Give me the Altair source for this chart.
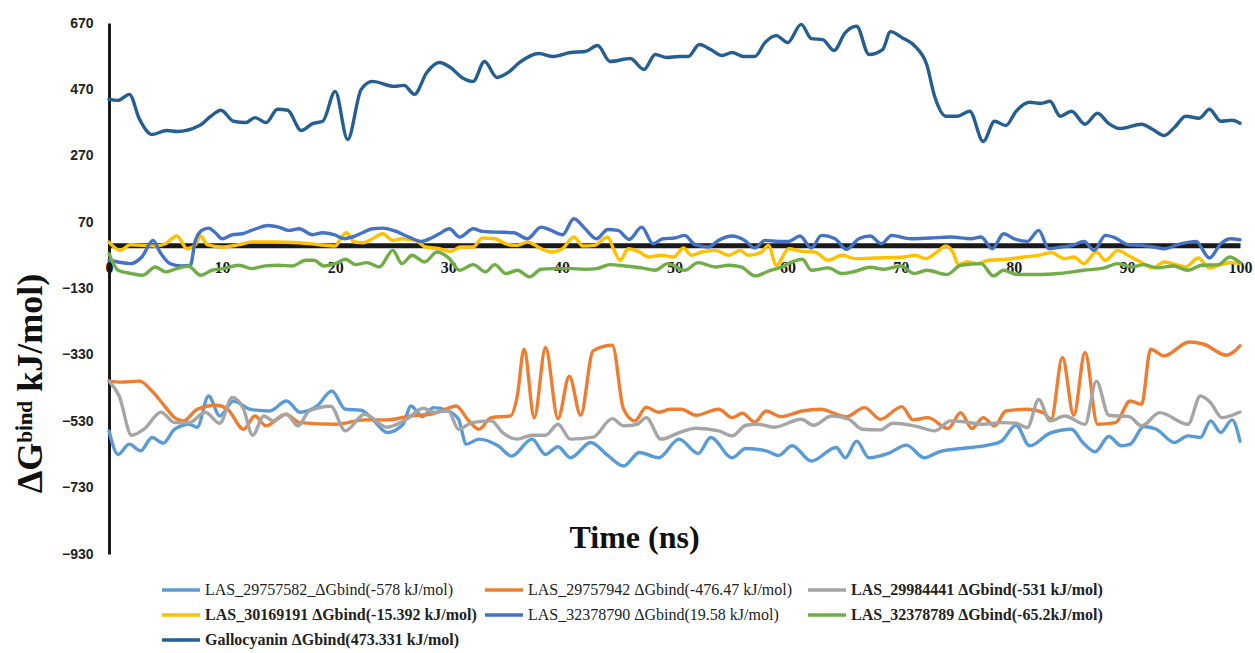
import altair as alt
import pandas as pd

# ---- series names (legend text), colours and line widths ----
series_names = [
    "LAS_29757582_ΔGbind(-578 kJ/mol)",
    "LAS_29757942 ΔGbind(-476.47 kJ/mol)",
    "LAS_29984441 ΔGbind(-531 kJ/mol)",
    "LAS_30169191 ΔGbind(-15.392 kJ/mol)",
    "LAS_32378790 ΔGbind(19.58 kJ/mol)",
    "LAS_32378789 ΔGbind(-65.2kJ/mol)",
    "Gallocyanin ΔGbind(473.331 kJ/mol)",
]
series_colors = ["#5B9BD5", "#ED7D31", "#A5A5A5", "#FFC000", "#4472C4", "#70AD47", "#255E91"]
series_widths = [3.4, 3.4, 3.4, 2.3, 2.0, 2.2, 4.0]

# ---- LAS_29757582 (light blue) ----
t_582 = [0, 0.8, 1.8, 2.8, 3.8, 4.8, 5.8, 7.1, 7.8, 8.8, 9.8, 11.0, 12.5, 14.2, 15.7, 16.9, 18.4, 19.7,
         20.9, 22.3, 23.3, 24.6, 26.0, 26.7, 27.7, 28.7, 30.0, 30.9, 31.6, 32.7, 34.4, 35.6, 37.4, 38.6,
         39.7, 40.8, 42.6, 44.1, 45.5, 46.9, 48.6, 50.4, 52.1, 53.2, 55.1, 56.3, 58.1, 59.2, 60.4, 62.1,
         64.3, 65.1, 66.1, 67.2, 68.9, 70.5, 72.1, 73.4, 75.4, 77.7, 78.9, 80.2, 81.4, 83.2, 85.1, 86.1,
         87.2, 88.4, 89.5, 90.3, 91.5, 92.6, 94.2, 95.4, 96.5, 97.4, 98.3, 99.3, 100]
v_582 = [-559, -630, -599, -619, -579, -596, -554, -539, -548, -454, -514, -469, -494, -499, -469, -503,
         -484, -439, -494, -497, -524, -564, -539, -484, -516, -489, -499, -524, -599, -584, -604, -635,
         -584, -630, -607, -640, -594, -633, -665, -624, -640, -584, -627, -579, -640, -612, -619, -633,
         -604, -650, -609, -640, -590, -640, -627, -602, -640, -622, -612, -602, -590, -542, -604, -566,
         -554, -594, -622, -576, -604, -599, -546, -554, -594, -574, -579, -529, -564, -526, -590]

# ---- LAS_29757942 (orange) ----
t_942 = [0, 1.1, 2.7, 3.8, 4.8, 5.8, 6.6, 7.8, 9.5, 10.5, 11.9, 12.9, 13.9, 15.6, 16.9, 20.0, 22.6, 24.6,
         26.7, 28.4, 29.4, 30.7, 31.7, 32.7, 33.8, 35.5, 36.1, 36.7, 37.6, 38.6, 39.7, 40.7, 41.7, 42.8,
         44.5, 45.5, 46.5, 47.5, 48.6, 49.6, 50.6, 51.9, 53.9, 55.1, 56.0, 57.1, 58.1, 59.4, 61.3, 62.9,
         65.2, 66.8, 68.2, 70.1, 71.1, 72.4, 74.2, 75.3, 76.3, 77.3, 78.3, 79.3, 81.2, 82.6, 83.3, 84.3,
         85.3, 86.3, 87.4, 89.0, 90.3, 91.3, 92.1, 93.3, 95.5, 96.8, 98.8, 100]
v_942 = [-409, -412, -409, -439, -479, -519, -529, -494, -482, -494, -554, -514, -544, -509, -534, -539,
         -526, -526, -514, -509, -499, -484, -524, -554, -519, -514, -454, -313, -519, -308, -522, -394,
         -512, -318, -301, -494, -529, -488, -503, -494, -494, -512, -494, -519, -506, -532, -499, -516,
         -499, -494, -516, -489, -524, -486, -526, -519, -552, -504, -552, -519, -544, -499, -494, -504,
         -524, -338, -512, -323, -539, -534, -469, -479, -313, -333, -291, -298, -331, -303]

# ---- LAS_29984441 (grey) ----
t_441 = [0, 0.9, 2.0, 3.1, 4.6, 5.8, 7.1, 8.5, 9.8, 10.9, 11.9, 12.7, 13.7, 14.5, 15.7, 16.7, 17.7, 19.6,
         20.9, 22.6, 24.6, 26.3, 27.8, 28.7, 30.0, 30.9, 32.1, 33.8, 34.8, 36.1, 37.4, 38.6, 39.7, 40.8,
         42.8, 44.5, 45.5, 46.7, 47.5, 48.8, 50.6, 51.9, 53.9, 55.1, 56.3, 57.4, 58.8, 61.2, 62.3, 63.9,
         65.4, 66.6, 68.2, 69.3, 71.5, 73.0, 74.4, 75.7, 77.3, 78.9, 80.2, 81.2, 82.2, 83.2, 84.5, 86.3,
         87.3, 88.4, 90.2, 91.3, 92.9, 95.4, 96.5, 97.4, 98.4, 100]
v_441 = [-409, -454, -572, -554, -503, -534, -534, -503, -536, -458, -494, -572, -514, -529, -509, -544,
         -499, -485, -559, -509, -548, -524, -491, -503, -499, -554, -534, -529, -564, -584, -572, -572,
         -539, -584, -578, -522, -544, -539, -519, -584, -562, -551, -559, -574, -542, -539, -548, -524,
         -542, -514, -524, -554, -556, -536, -546, -559, -529, -532, -539, -534, -536, -549, -464, -529,
         -514, -539, -409, -512, -516, -544, -504, -539, -454, -474, -519, -502]

# ---- LAS_30169191 (yellow) ----
t_191 = [0, 1.0, 1.9, 2.9, 4.1, 5.0, 6.0, 6.9, 7.6, 8.1, 8.7, 10.0, 11.5, 12.6, 14.4, 16.8, 18.6, 20.0,
         20.5, 21.0, 21.7, 22.5, 23.3, 24.2, 25.1, 25.9, 27.1, 28.0, 29.2, 30.2, 31.1, 32.2, 33.0, 34.1,
         35.3, 36.1, 37.0, 38.2, 39.1, 40.1, 41.1, 41.9, 42.9, 44.1, 44.6, 45.2, 45.9, 46.8, 47.7, 48.8,
         49.9, 50.8, 51.5, 52.4, 53.6, 54.8, 55.8, 56.5, 57.7, 58.3, 59.0, 60.1, 61.3, 62.4, 63.6, 64.8,
         66.0, 67.9, 70.3, 71.3, 72.2, 73.2, 74.0, 74.6, 75.1, 75.9, 76.8, 77.8, 79.4, 80.9, 82.2, 83.3,
         84.5, 85.3, 86.2, 87.3, 88.1, 89.2, 90.1, 91.2, 92.3, 93.3, 94.5, 95.2, 96.3, 97.3, 98.3, 99.2, 100]
v_191 = [10, -15, 2, 0, -2, 5, 28, -10, 0, 28, 2, -5, 2, 10, 10, 8, 2, -2, 22, 38, 10, 8, 20, 35, 15, 20,
         15, -5, -10, -18, -5, -5, 22, 20, 2, 0, 10, -10, -20, -10, 25, -2, 0, 25, -10, -45, -10, -18,
         -35, -30, -35, -8, -30, -20, -15, -30, -15, -30, -20, 0, -60, -10, -18, -20, -45, -30, -40, -38,
         -35, -30, -40, -20, -2, -20, -58, -50, -55, -45, -42, -35, -30, -22, -40, -35, -55, -20, -45,
         -15, -30, -50, -68, -50, -60, -65, -38, -68, -58, -52, -55]

# ---- LAS_32378790 (blue) ----
t_790 = [0, 0.8, 1.9, 2.9, 3.9, 4.5, 5.4, 6.4, 7.2, 7.6, 8.2, 8.8, 9.4, 10.0, 10.9, 11.8, 12.6, 14.1,
         15.0, 15.9, 16.8, 18.0, 18.9, 19.9, 20.8, 21.5, 22.4, 23.3, 24.2, 25.4, 26.5, 27.6, 28.5, 29.2,
         30.1, 31.0, 32.2, 33.0, 34.1, 35.8, 37.0, 38.2, 39.1, 40.1, 41.1, 42.1, 43.1, 44.1, 45.0, 46.0,
         47.1, 48.1, 49.0, 50.0, 50.9, 51.8, 53.0, 53.9, 55.1, 56.2, 57.1, 58.0, 59.2, 60.1, 61.1, 62.1,
         63.0, 64.2, 65.2, 66.3, 67.3, 68.3, 69.2, 70.9, 72.6, 74.4, 76.2, 77.1, 78.1, 79.1, 80.0, 81.2,
         82.2, 83.1, 84.2, 85.2, 86.2, 87.1, 88.1, 89.0, 90.1, 91.2, 92.4, 93.3, 94.5, 96.1, 97.3, 98.3,
         99.2, 100]
v_790 = [-45, -50, -55, -35, 15, -20, -55, -62, -60, 10, 45, 52, 38, 20, 32, 35, 45, 60, 55, 45, 50, 32,
         38, 32, 20, 25, 38, 50, 52, 42, 25, 12, 22, 35, 50, 25, 50, 42, 40, 38, 20, 55, 45, 32, 80, 50,
         20, 48, 45, 18, 55, 5, 20, 22, 30, 2, -5, 15, 28, 15, -8, 15, 12, 12, 28, -8, 30, 20, -12, 20,
         28, 5, 30, 20, 22, 25, 20, 25, -10, 35, 20, 12, 45, -10, -5, 0, 12, -15, 30, 22, 2, 0, -5, -10,
         2, 12, -38, 5, 20, 17]

# ---- LAS_32378789 (green) ----
t_789 = [0, 0.8, 2.0, 3.0, 4.1, 5.0, 6.0, 7.0, 8.1, 9.1, 10.1, 11.5, 12.6, 13.8, 15.0, 16.2, 17.4, 18.1,
         19.0, 20.0, 20.9, 21.8, 22.8, 23.9, 25.1, 25.9, 26.8, 27.9, 29.0, 30.1, 31.0, 32.2, 33.3, 34.1,
         35.1, 36.1, 37.2, 38.2, 39.2, 40.9, 42.0, 43.1, 44.3, 45.6, 47.1, 48.3, 49.4, 50.9, 52.1, 53.6,
         54.8, 55.9, 57.1, 58.3, 59.5, 60.4, 61.3, 62.1, 63.6, 64.8, 66.0, 67.3, 68.5, 70.0, 71.2, 72.3,
         74.1, 75.3, 77.1, 78.2, 79.1, 80.3, 82.1, 83.9, 86.2, 88.0, 89.2, 90.4, 91.5, 92.7, 94.1, 95.4,
         96.6, 98.1, 99.1, 100]
v_789 = [-25, -75, -85, -90, -65, -80, -70, -62, -90, -75, -70, -60, -70, -62, -60, -62, -45, -45, -62,
         -55, -42, -58, -52, -65, -15, -55, -30, -50, -20, -40, -75, -58, -80, -58, -85, -75, -95, -72,
         -70, -70, -72, -70, -58, -62, -68, -75, -55, -75, -52, -65, -60, -65, -92, -78, -65, -50, -42,
         -75, -68, -85, -78, -66, -72, -62, -85, -75, -88, -60, -55, -92, -75, -88, -88, -85, -75, -68,
         -55, -65, -58, -68, -62, -75, -60, -58, -35, -52]

# ---- Gallocyanin (dark blue) ----
t_gal = [0, 0.8, 1.8, 2.7, 3.8, 5.1, 6.0, 8.0, 9.0, 9.9, 11.0, 12.1, 12.9, 13.9, 14.9, 15.8, 17.0, 18.0,
         18.9, 20.0, 21.1, 22.3, 23.3, 25.2, 26.1, 27.0, 28.1, 29.2, 30.2, 31.2, 32.2, 33.2, 34.3, 35.3,
         36.3, 38.0, 39.3, 40.8, 42.1, 43.2, 44.3, 46.1, 47.3, 48.3, 49.3, 50.4, 51.2, 52.2, 53.2, 54.2,
         55.1, 56.1, 57.1, 58.0, 59.0, 60.0, 61.2, 62.1, 63.1, 64.1, 65.1, 66.1, 67.2, 68.4, 69.1, 70.1,
         71.3, 72.3, 73.0, 74.0, 75.0, 76.1, 77.3, 78.3, 79.3, 80.2, 81.4, 82.4, 83.2, 84.1, 85.1, 86.3,
         87.4, 88.4, 89.4, 91.3, 92.3, 93.3, 94.2, 95.2, 96.4, 97.3, 98.3, 99.3, 100]
v_gal = [440, 437, 455, 380, 334, 346, 343, 361, 389, 407, 374, 370, 385, 370, 410, 407, 346, 367, 374,
         464, 319, 470, 494, 479, 482, 455, 521, 551, 536, 506, 494, 554, 506, 521, 551, 578, 569, 581,
         584, 602, 554, 563, 530, 575, 566, 569, 569, 605, 590, 572, 581, 569, 569, 611, 632, 611, 666,
         623, 620, 587, 641, 660, 575, 590, 644, 626, 599, 545, 449, 389, 389, 404, 313, 374, 361, 404,
         431, 428, 434, 389, 404, 365, 398, 367, 352, 365, 349, 331, 355, 389, 383, 410, 374, 377, 368]

y_ticks = [-930, -730, -530, -330, -130, 70, 270, 470, 670]
x_ticks = [0, 10, 20, 30, 40, 50, 60, 70, 80, 90, 100]

all_t = [t_582, t_942, t_441, t_191, t_790, t_789, t_gal]
all_v = [v_582, v_942, v_441, v_191, v_790, v_789, v_gal]

rows = []
for name, ts, vs in zip(series_names, all_t, all_v):
    for t, v in zip(ts, vs):
        rows.append({"series": name, "t": t, "v": v})
df = pd.DataFrame(rows)

W, H = 1131, 531
y_zero = H * (670 - 0) / 1600.0

bold_expr = ("test(/^(LAS_29984441|LAS_30169191|LAS_32378789|Gallocyanin)/, datum.value)"
             " ? 'bold' : 'normal'")

legend = alt.Legend(
    title=None, orient="none", legendX=51, legendY=559, columns=3, direction="horizontal",
    gridAlign="all", columnPadding=6, rowPadding=9, clipHeight=16, symbolType="stroke",
    symbolSize=1444, labelOffset=3, labelFont="Liberation Serif", labelFontSize=16,
    labelColor="#222222", labelFontWeight=alt.ExprRef(expr=bold_expr),
    labelLimit=500, padding=0, symbolOffset=0,
)

chart = alt.Chart(df).mark_line(interpolate="monotone", strokeCap="round", strokeJoin="round").encode(
    x=alt.X("t:Q", scale=alt.Scale(domain=[0, 100], nice=False),
            axis=alt.Axis(values=x_ticks, offset=-(H - y_zero), domainColor="#1a1a1a", domainWidth=5,
                          ticks=False, labelPadding=14, labelFont="Liberation Serif", labelFontWeight="bold",
                          labelFontSize=16, labelColor="#1a1a1a", grid=False, labelFlush=False,
                          labelOverlap=False, title="Time (ns)", titleFont="Liberation Serif",
                          titleFontSize=32, titleFontWeight="bold", titleColor="#111111",
                          titleX=525, titleY=302, titleAlign="center", titleBaseline="alphabetic")),
    y=alt.Y("v:Q", scale=alt.Scale(domain=[-930, 670], nice=False, zero=False),
            axis=alt.Axis(values=y_ticks, domainColor="#1a1a1a", domainWidth=3, ticks=False,
                          labelPadding=16, labelFont="Liberation Sans", labelFontWeight="bold",
                          labelFontSize=14, labelColor="#222222", grid=False, labelOverlap=False,
                          title="ΔGᵇⁱⁿᵈ kJ/mol)", titleFont="Liberation Serif", titleFontSize=36,
                          titleFontWeight="bold", titleColor="#111111", titleX=-79, titleY=360,
                          titleAngle=270, titleAlign="center", titleBaseline="middle")),
    color=alt.Color("series:N", sort=series_names,
                    scale=alt.Scale(domain=series_names, range=series_colors), legend=legend),
    strokeWidth=alt.StrokeWidth("series:N", sort=series_names,
                                scale=alt.Scale(domain=series_names, range=series_widths), legend=legend),
).properties(
    width=W, height=H,
    autosize=alt.AutoSizeParams(type="none"),
    padding={"left": 109, "top": 23, "right": 15, "bottom": 99},
    background="white",
).configure_view(stroke=None)

chart.save("out.html", embed_options={"renderer": "svg", "actions": False})
